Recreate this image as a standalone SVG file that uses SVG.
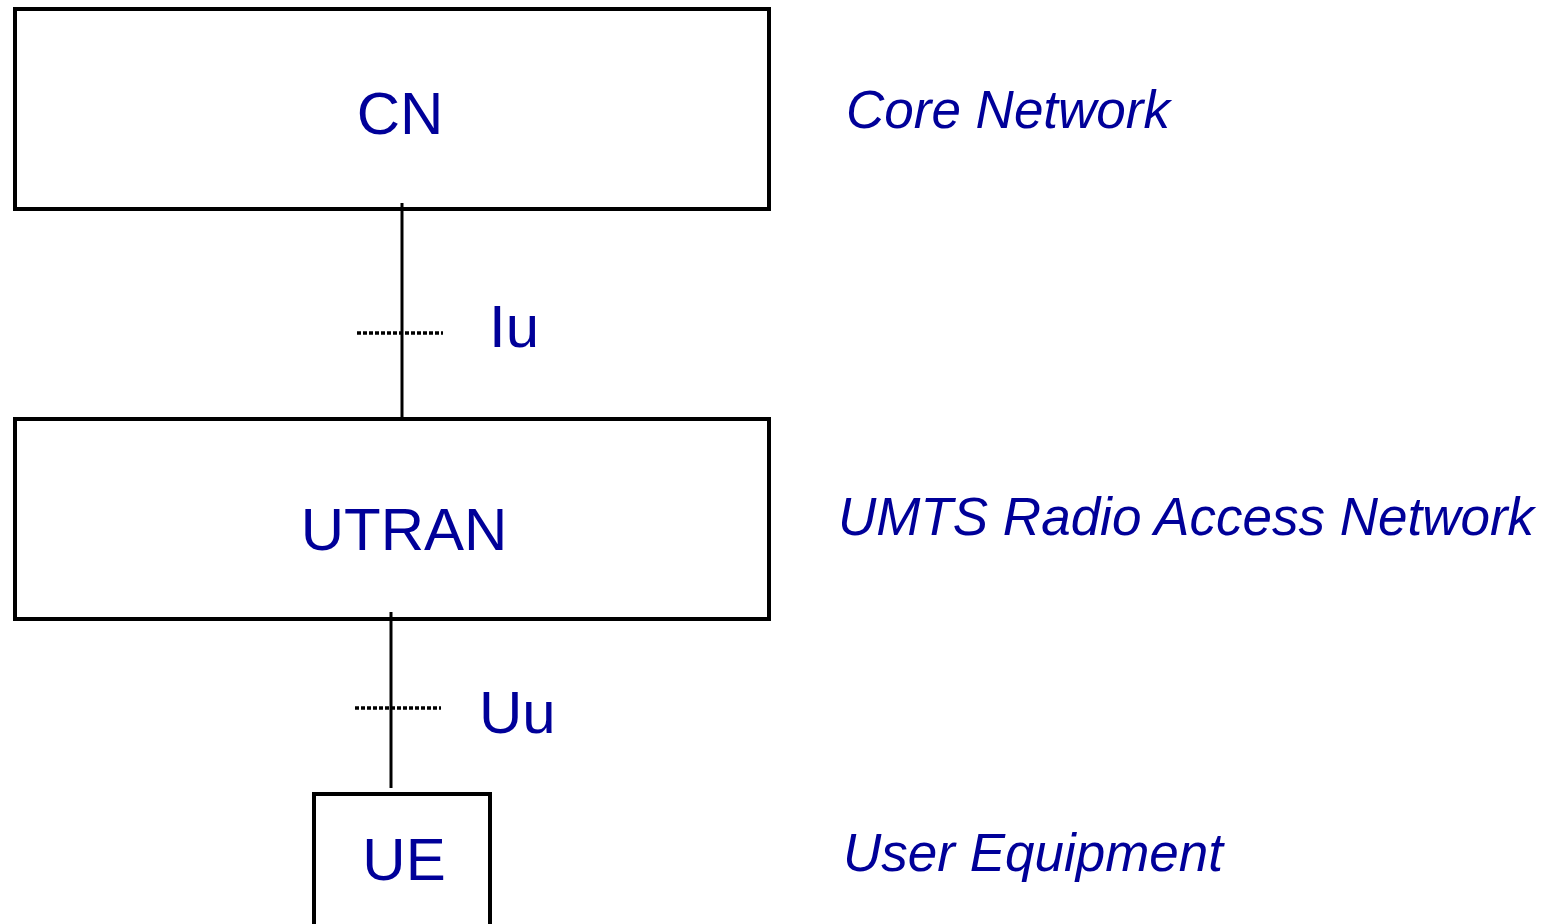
<svg xmlns="http://www.w3.org/2000/svg" width="1548" height="924" viewBox="0 0 1548 924">
<style>
.box{fill:#fff;stroke:#000;stroke-width:4}
.lbl{font-family:"Liberation Sans",Arial,sans-serif;font-size:60px;fill:#000099}
.desc{font-family:"Liberation Sans",Arial,sans-serif;font-size:53px;font-style:italic;fill:#000099}
.link{stroke:#000;stroke-width:3;fill:none}
.dot{stroke:#000;stroke-width:3.5;stroke-dasharray:4 2;fill:none}
</style>
<rect width="1548" height="924" fill="#fff"/>
<g id="cn">
<rect class="box" x="15" y="9" width="754" height="200"/>
<text class="lbl" x="400" y="134" text-anchor="middle">CN</text>
</g>
<g id="utran">
<rect class="box" x="15" y="419" width="754" height="200"/>
<text class="lbl" x="404" y="550" text-anchor="middle">UTRAN</text>
</g>
<g id="ue">
<rect class="box" x="314" y="794" width="176" height="140"/>
<text class="lbl" x="404" y="880" text-anchor="middle">UE</text>
</g>
<g id="connectors">
<line class="link" x1="402" y1="203" x2="402" y2="418"/>
<line class="dot" x1="357" y1="333" x2="443" y2="333"/>
<text class="lbl" x="489" y="347">Iu</text>
<line class="link" x1="391" y1="612" x2="391" y2="788"/>
<line class="dot" x1="355" y1="708" x2="441" y2="708"/>
<text class="lbl" x="479" y="733">Uu</text>
</g>
<g id="descriptions">
<text class="desc" x="846" y="128">Core Network</text>
<text class="desc" x="838" y="535">UMTS Radio Access Network</text>
<text class="desc" x="843" y="871">User Equipment</text>
</g>
</svg>
